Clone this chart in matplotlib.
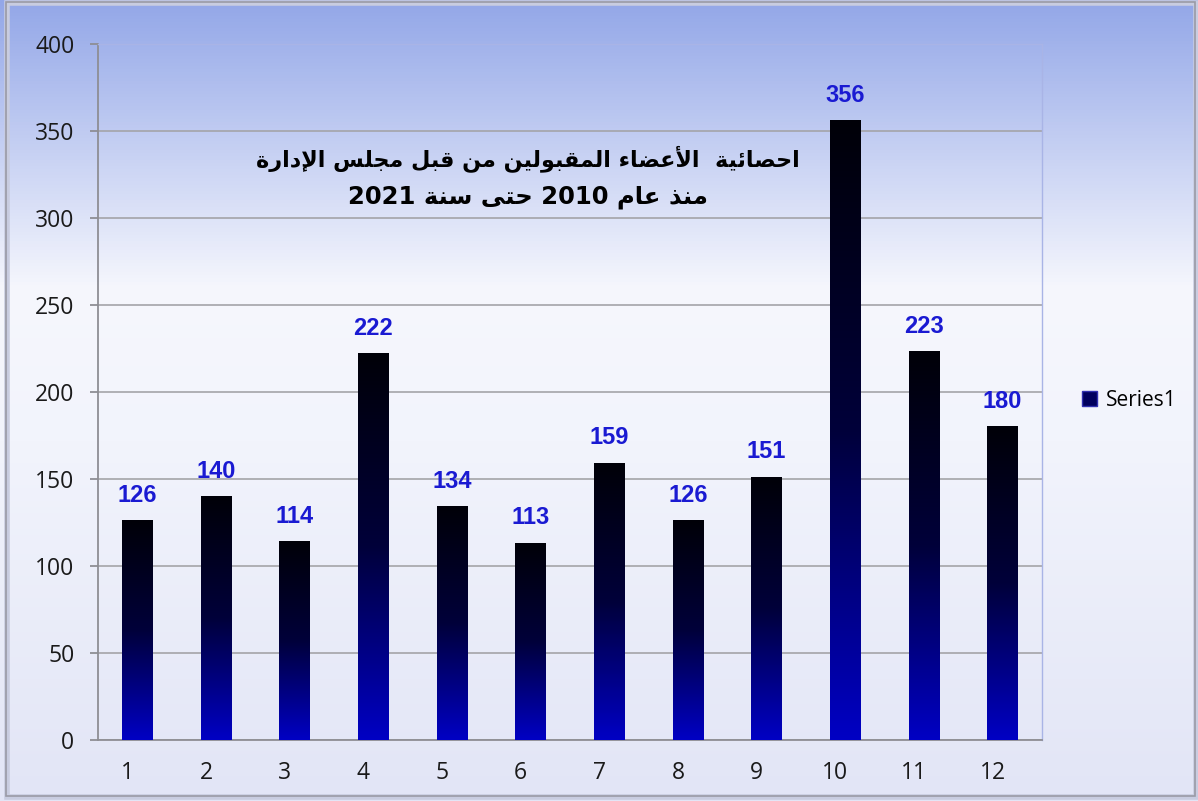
import numpy as np
import matplotlib
matplotlib.use("Agg")
import matplotlib.pyplot as plt
from matplotlib.colors import LinearSegmentedColormap
from matplotlib.patches import Patch, Rectangle
from matplotlib.transforms import ScaledTranslation

# data
categories = [1, 2, 3, 4, 5, 6, 7, 8, 9, 10, 11, 12]
values = [126, 140, 114, 222, 134, 113, 159, 126, 151, 356, 223, 180]
title_line1 = "احصائية  الأعضاء المقبولين من قبل مجلس الإدارة"
title_line2 = "منذ عام 2010 حتى سنة 2021"
series_name = "Series1"

# small arabic shaper (matplotlib draws left to right, no joining)
FORMS = {
    'ا': ('\uFE8D', '\uFE8E', None, None),
    'أ': ('\uFE83', '\uFE84', None, None),
    'إ': ('\uFE87', '\uFE88', None, None),
    'ء': ('\uFE80', None, None, None),
    'ب': ('\uFE8F', '\uFE90', '\uFE91', '\uFE92'),
    'ة': ('\uFE93', '\uFE94', None, None),
    'ت': ('\uFE95', '\uFE96', '\uFE97', '\uFE98'),
    'ج': ('\uFE9D', '\uFE9E', '\uFE9F', '\uFEA0'),
    'ح': ('\uFEA1', '\uFEA2', '\uFEA3', '\uFEA4'),
    'د': ('\uFEA9', '\uFEAA', None, None),
    'ذ': ('\uFEAB', '\uFEAC', None, None),
    'ر': ('\uFEAD', '\uFEAE', None, None),
    'س': ('\uFEB1', '\uFEB2', '\uFEB3', '\uFEB4'),
    'ص': ('\uFEB9', '\uFEBA', '\uFEBB', '\uFEBC'),
    'ض': ('\uFEBD', '\uFEBE', '\uFEBF', '\uFEC0'),
    'ع': ('\uFEC9', '\uFECA', '\uFECB', '\uFECC'),
    'ق': ('\uFED5', '\uFED6', '\uFED7', '\uFED8'),
    'ل': ('\uFEDD', '\uFEDE', '\uFEDF', '\uFEE0'),
    'م': ('\uFEE1', '\uFEE2', '\uFEE3', '\uFEE4'),
    'ن': ('\uFEE5', '\uFEE6', '\uFEE7', '\uFEE8'),
    'و': ('\uFEED', '\uFEEE', None, None),
    'ى': ('\uFEEF', '\uFEF0', None, None),
    'ي': ('\uFEF1', '\uFEF2', '\uFEF3', '\uFEF4'),
    'ئ': ('\uFE89', '\uFE8A', '\uFE8B', '\uFE8C'),
    'لا': ('\uFEFB', '\uFEFC', None, None),
    'لأ': ('\uFEF7', '\uFEF8', None, None),
    'لإ': ('\uFEF9', '\uFEFA', None, None),
}


def shape_word(word):
    toks = []
    i = 0
    while i < len(word):
        if word[i] == 'ل' and i + 1 < len(word) and word[i + 1] in 'اأإ':
            toks.append(word[i:i + 2])
            i += 2
        else:
            toks.append(word[i])
            i += 1
    out = []
    for k, t in enumerate(toks):
        f = FORMS[t]
        prev = k > 0 and FORMS[toks[k - 1]][2] is not None
        nxt = k < len(toks) - 1 and f[2] is not None and FORMS[toks[k + 1]][1] is not None
        if prev and nxt:
            out.append(f[3])
        elif prev:
            out.append(f[1])
        elif nxt:
            out.append(f[2])
        else:
            out.append(f[0])
    return ''.join(reversed(out))


def rtl(text):
    words = text.split(' ')
    res = []
    for w in reversed(words):
        if w and w[0] in FORMS:
            res.append(shape_word(w))
        else:
            res.append(w)
    return ' '.join(res)


fig = plt.figure(figsize=(11.98, 8.01), dpi=100)

# background gradient
bg = fig.add_axes([0, 0, 1, 1], zorder=-10)
bg_cmap = LinearSegmentedColormap.from_list(
    "bg", [(0.0, "#93a7e8"), (0.36, "#f6f7fd"), (0.55, "#f2f4fc"), (1.0, "#e2e5f6")])
bg.imshow(np.linspace(0, 1, 256).reshape(-1, 1), cmap=bg_cmap, aspect="auto",
          extent=[0, 1, 1, 0])
bg.set_xlim(0, 1)
bg.set_ylim(1, 0)
bg.axis("off")

# chart border
fig.patches.append(Rectangle((7 / 1198, 4 / 801), 1189 / 1198, 794 / 801,
                             transform=fig.transFigure, fill=False,
                             edgecolor="#c8cce0", linewidth=4, zorder=-5))
fig.patches.append(Rectangle((6 / 1198, 5 / 801), 1189 / 1198, 794 / 801,
                             transform=fig.transFigure, fill=False,
                             edgecolor="#9a9aa6", linewidth=1.2, zorder=-4))

ax = fig.add_axes([98 / 1198, 1 - 740 / 801, 944 / 1198, 696 / 801])
ax.set_facecolor("none")

bars = ax.bar(categories, values, width=0.39, color="none", zorder=3)
bar_cmap = LinearSegmentedColormap.from_list("bar", ["#0000c4", "#00003a", "#000008"])
grad = np.linspace(0, 1, 256).reshape(-1, 1)
for b in bars:
    x0 = b.get_x()
    ax.imshow(grad, cmap=bar_cmap, aspect="auto", origin="lower",
              extent=[x0, x0 + b.get_width(), 0, b.get_height()], zorder=3)

for x, v in zip(categories, values):
    ax.annotate(str(v), (x, v), xytext=(0, 10), textcoords="offset points",
                ha="center", va="bottom", fontsize=17, fontweight="bold",
                color="#1a1ad2", family="Liberation Sans", zorder=5)

ax.set_xlim(0.5, 12.5)
ax.set_ylim(0, 400)
ax.set_yticks(np.arange(0, 401, 50))
ax.set_xticks(categories)
ax.yaxis.grid(True, color="#a4a4a8", linewidth=1.2, zorder=0)
ax.set_axisbelow(True)

for s in ["top", "right"]:
    ax.spines[s].set_color("#a9b4e6")
    ax.spines[s].set_linewidth(1.0)
for s in ["left", "bottom"]:
    ax.spines[s].set_color("#8e8e94")
    ax.spines[s].set_linewidth(1.3)

ax.tick_params(axis="y", length=6, color="#8e8e94", width=1.3, pad=11,
               labelsize=16.5, labelcolor="#1a1a1a")
ax.tick_params(axis="x", length=0, pad=15, labelsize=16.5, labelcolor="#1a1a1a")
shift = ScaledTranslation(-10 / 100, 0, fig.dpi_scale_trans)
for lab in ax.get_xticklabels():
    lab.set_family("Open Sans")
    lab.set_transform(lab.get_transform() + shift)
for lab in ax.get_yticklabels():
    lab.set_family("Open Sans")

ax.text(0.455, 0.836, rtl(title_line1), transform=ax.transAxes, ha="center",
        va="center", fontsize=16, fontweight="bold", family="DejaVu Sans", color="black")
ax.text(0.455, 0.780, rtl(title_line2), transform=ax.transAxes, ha="center",
        va="center", fontsize=17.5, fontweight="bold", family="DejaVu Sans", color="black")

handle = Patch(facecolor="#00005e", edgecolor="#3030b0", label=series_name)
fig.legend(handles=[handle], loc="center left", bbox_to_anchor=(1063 / 1198, 1 - 400 / 801),
           frameon=False, handlelength=0.75, handleheight=0.75,
           handletextpad=0.4, prop={"family": "Open Sans", "size": 15})

fig.savefig("out.png", dpi=100)
